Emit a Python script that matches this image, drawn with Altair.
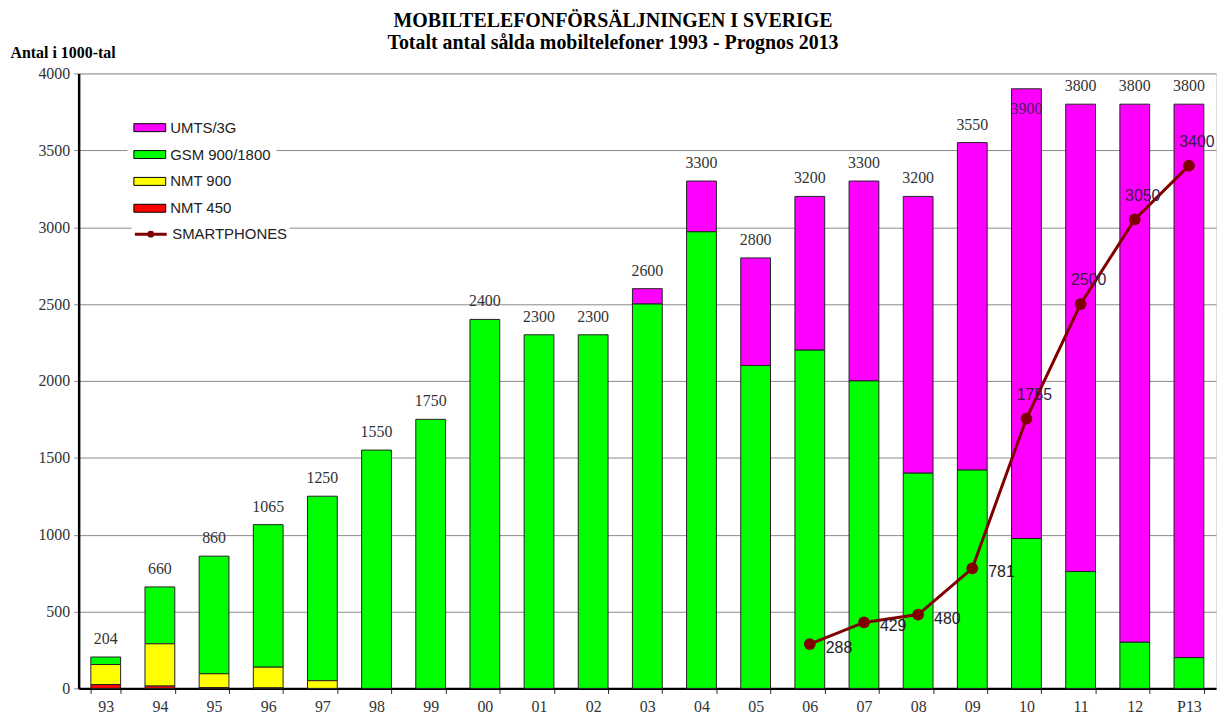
import altair as alt
import pandas as pd

years = ["93", "94", "95", "96", "97", "98", "99", "00", "01", "02", "03",
         "04", "05", "06", "07", "08", "09", "10", "11", "12", "P13"]
nmt450 = [25, 15, 5, 3, 0, 0, 0, 0, 0, 0, 0, 0, 0, 0, 0, 0, 0, 0, 0, 0, 0]
nmt900 = [130, 275, 90, 135, 50, 0, 0, 0, 0, 0, 0, 0, 0, 0, 0, 0, 0, 0, 0, 0, 0]
gsm = [49, 370, 765, 927, 1200, 1550, 1750, 2400, 2300, 2300, 2500,
       2970, 2100, 2200, 2000, 1400, 1420, 975, 760, 300, 200]
umts = [0, 0, 0, 0, 0, 0, 0, 0, 0, 0, 100,
        330, 700, 1000, 1300, 1800, 2130, 2925, 3040, 3500, 3600]
totals = [204, 660, 860, 1065, 1250, 1550, 1750, 2400, 2300, 2300, 2600,
          3300, 2800, 3200, 3300, 3200, 3550, 3900, 3800, 3800, 3800]

smart_years = ["06", "07", "08", "09", "10", "11", "12", "P13"]
smartphones = [288, 429, 480, 781, 1755, 2500, 3050, 3400]

series_names = ["UMTS/3G", "GSM 900/1800", "NMT 900", "NMT 450"]
series_colors = ["#FF00FF", "#00FF00", "#FFFF00", "#FF0000"]
series_values = [umts, gsm, nmt900, nmt450]
stack_rank = [3, 2, 1, 0]
line_name = "SMARTPHONES"
line_color = "#800000"

rows = []
for name, vals, rank in zip(series_names, series_values, stack_rank):
    for y, v in zip(years, vals):
        rows.append({"year": y, "series": name, "value": v, "rank": rank})
bars_df = pd.DataFrame(rows)
tot_df = pd.DataFrame({"year": years, "total": totals})
smart_df = pd.DataFrame({"year": smart_years, "value": smartphones,
                         "line": [line_name] * len(smart_years)})

SERIF = "Liberation Serif"
SANS = "Liberation Sans"

x_enc = alt.X(
    "year:N", sort=years,
    scale=alt.Scale(domain=years, paddingInner=0.45, paddingOuter=0.225),
    axis=alt.Axis(title=None, labelAngle=0, labelFont=SERIF, labelFontSize=16,
                  labelColor="#333", labelPadding=5, tickBand="extent",
                  tickSize=5, tickColor="#222", domainColor="black",
                  domainWidth=2.5),
)
y_scale = alt.Scale(domain=[0, 4000], nice=False)
y_axis = alt.Axis(
    values=list(range(0, 4001, 500)), format="d", grid=True,
    gridColor="#8a8a8a", gridWidth=1, tickSize=5, tickColor="#8a8a8a",
    labelFont=SERIF, labelFontSize=16, labelColor="#333", labelPadding=4,
    domainColor="black", domainWidth=2.5, title="Antal i 1000-tal",
    titleAngle=0, titleAlign="left", titleBaseline="middle", titleX=-69,
    titleY=-21, titleFont=SERIF, titleFontSize=16, titleFontWeight="bold",
    titleColor="black",
)

bar_symbol = "M-1,-0.25L1,-0.25L1,0.25L-1,0.25Z"
line_symbol = ("M-1,0L1,0M-0.12,0A0.12,0.12 0 1,0 0.12,0"
               "A0.12,0.12 0 1,0 -0.12,0")

bars = alt.Chart(bars_df).transform_filter("datum.value > 0").mark_bar(
    stroke="#222", strokeWidth=1
).encode(
    x=x_enc,
    y=alt.Y("value:Q", stack="zero", scale=y_scale, axis=y_axis),
    color=alt.Color(
        "series:N",
        scale=alt.Scale(domain=series_names, range=series_colors),
        legend=alt.Legend(
            title=None, orient="none", legendX=49, legendY=32,
            symbolType=bar_symbol, symbolSize=1024, symbolStrokeColor="black",
            symbolStrokeWidth=1, labelFont=SANS, labelFontSize=15,
            labelColor="#222", labelOffset=4, rowPadding=2,
            fillColor="white", padding=6,
        ),
    ),
    order=alt.Order("rank:Q", sort="ascending"),
)

tot_text = alt.Chart(tot_df).transform_filter("datum.total < 3850").mark_text(
    font=SERIF, fontSize=16, color="#333", dy=-18, baseline="middle"
).encode(x=alt.X("year:N", sort=years), y=alt.Y("total:Q", scale=y_scale),
         text="total:Q")
tot_text_in = alt.Chart(tot_df).transform_filter("datum.total >= 3850").mark_text(
    font=SERIF, fontSize=16, color="#4a1a5a", dy=20, baseline="middle"
).encode(x=alt.X("year:N", sort=years), y=alt.Y("total:Q", scale=y_scale),
         text="total:Q")

line = alt.Chart(smart_df).mark_line(strokeWidth=3).encode(
    x=alt.X("year:N", sort=years),
    y=alt.Y("value:Q", scale=y_scale),
    stroke=alt.Stroke(
        "line:N", scale=alt.Scale(domain=[line_name], range=[line_color]),
        legend=alt.Legend(
            title=None, orient="none", legendX=53, legendY=142,
            symbolType=line_symbol, symbolSize=1024, symbolStrokeWidth=3,
            labelFont=SANS, labelFontSize=15, labelColor="#222",
            labelOffset=4, fillColor="white", padding=2,
        ),
    ),
)
pts = alt.Chart(smart_df).mark_circle(size=140, color=line_color, opacity=1).encode(
    x=alt.X("year:N", sort=years), y=alt.Y("value:Q", scale=y_scale)
)
early = alt.FieldOneOfPredicate(field="year", oneOf=smart_years[:4])
late = alt.FieldOneOfPredicate(field="year", oneOf=smart_years[4:])
smart_text1 = alt.Chart(smart_df).transform_filter(early).mark_text(
    font=SANS, fontSize=16, color="#222", align="left", dx=16, dy=4,
    baseline="middle"
).encode(x=alt.X("year:N", sort=years), y=alt.Y("value:Q", scale=y_scale),
         text="value:Q")
smart_text2 = alt.Chart(smart_df).transform_filter(late).mark_text(
    font=SANS, fontSize=16, color="#3a1848", align="center", dx=8, dy=-24,
    baseline="middle"
).encode(x=alt.X("year:N", sort=years), y=alt.Y("value:Q", scale=y_scale),
         text="value:Q")

chart = alt.layer(
    bars, tot_text, tot_text_in, line, pts, smart_text1, smart_text2
).properties(
    width=1143, height=618,
    padding={"left": 71, "top": 64, "right": 2, "bottom": 26},
    autosize=alt.AutoSizeParams(type="none"),
    title=alt.TitleParams(
        text="MOBILTELEFONFÖRSÄLJNINGEN I SVERIGE",
        subtitle="Totalt antal sålda mobiltelefoner 1993 - Prognos 2013",
        font=SERIF, fontSize=20, fontWeight="bold", color="black",
        subtitleFont=SERIF, subtitleFontSize=20, subtitleFontWeight="bold",
        subtitleColor="black", subtitlePadding=2, anchor="middle",
        frame="bounds", offset=-8,
    ),
).configure_view(
    stroke="black", strokeWidth=2.5
).configure(background="white")

chart.save("out.html", embed_options={"renderer": "svg", "actions": False})
